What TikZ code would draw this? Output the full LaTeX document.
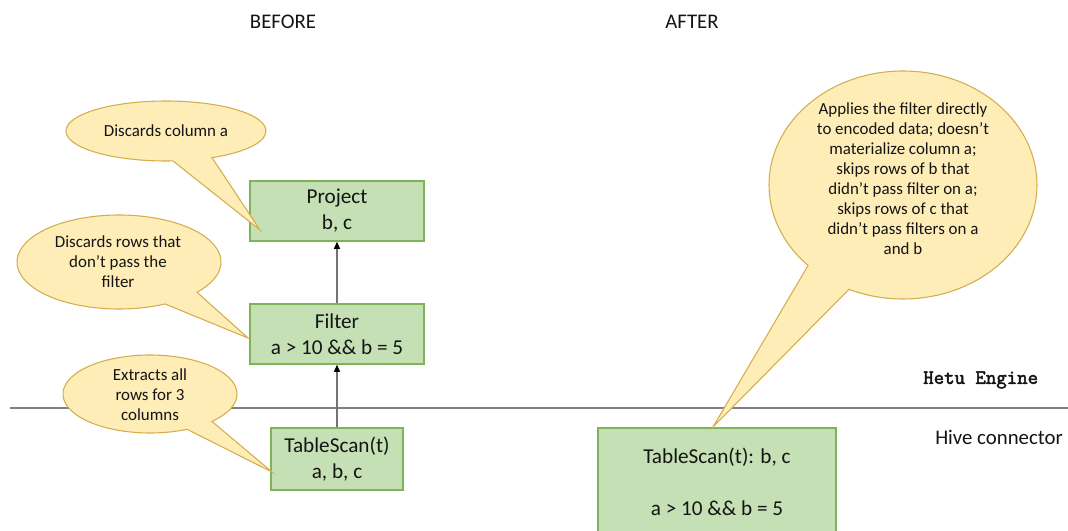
\documentclass[tikz,border=0pt]{standalone}
\usepackage{fontspec}
\setmainfont{Carlito}
\newfontfamily\engfont[AutoFakeBold=2.5]{Latin Modern Mono}
\usetikzlibrary{arrows.meta}
\definecolor{boxfill}{HTML}{C5E0B4}
\definecolor{boxline}{HTML}{7FB35A}
\definecolor{bubblefill}{HTML}{FFEDB8}
\definecolor{bubbleline}{HTML}{D4AE4C}
\definecolor{layerline}{HTML}{808080}
\definecolor{ink}{HTML}{141414}

\begin{document}
\begin{tikzpicture}[x=0.75pt,y=-0.75pt,
  opbox/.style={draw=boxline, fill=boxfill, line width=0.9pt, align=center,
    inner sep=0pt, text=ink, font=\fontsize{15.9}{19.5}\selectfont},
  bubble/.style={draw=bubbleline, fill=bubblefill, line width=0.8pt},
  note/.style={align=center, inner sep=0pt, text=ink,
    font=\fontsize{12.7}{15}\selectfont},
  flow/.style={draw=black!55, line width=1.1pt,
    -{Triangle[length=5.5pt,width=4.5pt,color=black,fill=black]}},
  heading/.style={inner sep=0pt, text=ink, font=\fontsize{15.6}{18}\selectfont},
  layer/.style={inner sep=0pt, text=ink}
]
\clip (0,0) rectangle (1068,531);
\fill[white] (0,0) rectangle (1068,531);

% column headings
\node[heading] (before) at (283,22) {BEFORE};
\node[heading] (after)  at (692,22) {AFTER};

% boundary between engine and connector
\draw[draw=layerline, line width=1.5pt] (10,408) -- (1068,408);
\node[layer, anchor=west, font=\engfont\bfseries\fontsize{15.2}{18}\selectfont]
  (engine) at (923,380) {Hetu Engine};
\node[layer, anchor=west, font=\fontsize{15.6}{18}\selectfont]
  (connector) at (935,437) {Hive connector};

% plan before the pushdown
\node[opbox, minimum width=130.5pt, minimum height=45pt] (project) at (337,211)
  {Project\\b, c};
\node[opbox, minimum width=130.5pt, minimum height=45pt] (filter) at (337,334)
  {Filter\\a > 10 \&\& b = 5};
\node[opbox, minimum width=99pt, minimum height=46.5pt] (scan) at (337,459)
  {TableScan(t)\\a, b, c};
\draw[flow] (filter.north) -- (project.south);
\draw[flow] (scan.north) -- (filter.south);

% plan after the pushdown
\node[opbox, minimum width=178.5pt, minimum height=81pt] (scan2) at (717,482)
  {TableScan(t): b, c\\[19.5pt]a > 10 \&\& b = 5};

% speech bubbles
\path[bubble] (166,131) ++(86:100 and 30)
  arc[start angle=86, end angle=422.6, x radius=100, y radius=30]
  -- (260,230) -- cycle;
\node[note] (n1) at (166,131) {Discards column a};

\path[bubble] (119,262) ++(63.2:102 and 47)
  arc[start angle=63.2, end angle=400.1, x radius=102, y radius=47]
  -- (248,338) -- cycle;
\node[note] (n2) at (118,262) {Discards rows that\\don’t pass the\\filter};

\path[bubble] (150,394) ++(64.8:87 and 39)
  arc[start angle=64.8, end angle=404.6, x radius=87, y radius=39]
  -- (272,472) -- cycle;
\node[note] (n3) at (150,395) {Extracts all\\rows for 3\\columns};

\path[bubble] (903,185) ++(135.1:134 and 114)
  arc[start angle=135.1, end angle=473.8, x radius=134, y radius=114]
  -- (713,427) -- cycle;
\node[note] (n4) at (903,179) {Applies the filter directly\\to encoded data; doesn’t\\materialize column a;\\skips rows of b that\\didn’t pass filter on a;\\skips rows of c that\\didn’t pass filters on a\\and b};
\end{tikzpicture}
\end{document}
